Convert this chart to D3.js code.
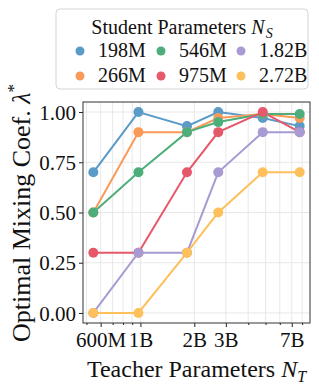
<!DOCTYPE html>
<html>
<head>
<meta charset="utf-8">
<script src="https://cdn.jsdelivr.net/npm/d3@7"></script>
<style>
  body { margin: 0; background: #fff; }
  text { font-family: "Liberation Serif", "DejaVu Serif", serif; fill: #111; }
</style>
</head>
<body>
<div id="chart"></div>
<script>
var svgWidth = 319;
var svgHeight = 391;

// teacher sizes (billions of params)
var teachers = [0.546, 0.975, 1.82, 2.72, 4.82, 7.75];

var students = ["198M", "266M", "546M", "975M", "1.82B", "2.72B"];
var colors = ["#5a9bc8", "#fa9a58", "#4dae7c", "#e5596a", "#a89bd3", "#fdc05a"];

var s198 = [0.70, 1.00, 0.93, 1.00, 0.97, 0.93];
var s266 = [0.50, 0.90, 0.90, 0.97, 0.99, 0.97];
var s546 = [0.50, 0.70, 0.90, 0.95, 0.99, 0.99];
var s975 = [0.30, 0.30, 0.70, 0.90, 1.00, 0.90];
var s182 = [0.00, 0.30, 0.30, 0.70, 0.90, 0.90];
var s272 = [0.00, 0.00, 0.30, 0.50, 0.70, 0.70];
var series = [s198, s266, s546, s975, s182, s272];

var xTickVals = [0.6, 1, 2, 3, 7];
var xTickLabels = ["600M", "1B", "2B", "3B", "7B"];
var xMinor = [0.5, 0.7, 0.8, 0.9, 4, 5, 6, 8];
var yTicks = [0, 0.25, 0.5, 0.75, 1.0];

var margin = { top: 102, right: 9, bottom: 68, left: 83 };
var width = svgWidth - margin.left - margin.right;
var height = svgHeight - margin.top - margin.bottom;

var svg = d3.select("#chart").append("svg")
  .attr("width", svgWidth)
  .attr("height", svgHeight);

var chartGroup = svg.append("g")
  .attr("transform", `translate(${margin.left}, ${margin.top})`);

// log x with matplotlib-like 5% margins
var lo = Math.log10(d3.min(teachers)), hi = Math.log10(d3.max(teachers));
var pad = (hi - lo) * 0.05;
var xScale = d3.scaleLog()
  .domain([Math.pow(10, lo - pad), Math.pow(10, hi + pad)])
  .range([0, width]);

var yScale = d3.scaleLinear()
  .domain([-0.05, 1.05])
  .range([height, 0]);

// grid
chartGroup.append("g").selectAll("line")
  .data(xTickVals.concat(xMinor))
  .enter().append("line")
  .attr("x1", d => xScale(d)).attr("x2", d => xScale(d))
  .attr("y1", 0).attr("y2", height)
  .attr("stroke", "#e2e2e2").attr("stroke-width", 0.8);

chartGroup.append("g").selectAll("line")
  .data(yTicks)
  .enter().append("line")
  .attr("x1", 0).attr("x2", width)
  .attr("y1", d => yScale(d)).attr("y2", d => yScale(d))
  .attr("stroke", "#e2e2e2").attr("stroke-width", 0.8);

// axes
var leftAxis = d3.axisLeft(yScale)
  .tickValues(yTicks)
  .tickFormat(d3.format(".2f"))
  .tickSize(4).tickPadding(3);

var yAxis = chartGroup.append("g").call(leftAxis);
yAxis.select(".domain").remove();
yAxis.selectAll("text").style("font-size", "21px").attr("dy", "0.34em");

var bottomAxis = d3.axisBottom(xScale)
  .tickValues(xTickVals)
  .tickFormat((d, i) => xTickLabels[i])
  .tickSize(4).tickPadding(3);

var xAxis = chartGroup.append("g")
  .attr("transform", `translate(0, ${height})`)
  .call(bottomAxis);
xAxis.select(".domain").remove();
xAxis.selectAll("text").style("font-size", "21px").attr("dy", "0.82em");

chartGroup.append("g")
  .attr("transform", `translate(0, ${height})`)
  .call(d3.axisBottom(xScale).tickValues(xMinor).tickSize(2).tickFormat(""))
  .select(".domain").remove();

chartGroup.selectAll(".tick line").attr("stroke", "#222");

// frame
chartGroup.append("rect")
  .attr("width", width).attr("height", height)
  .attr("fill", "none").attr("stroke", "#333").attr("stroke-width", 1);

// lines + markers
var line = d3.line()
  .x((d, i) => xScale(teachers[i]))
  .y(d => yScale(d));

series.forEach(function(vals, k) {
  chartGroup.append("path")
    .datum(vals)
    .attr("d", line)
    .attr("fill", "none")
    .attr("stroke", colors[k])
    .attr("stroke-width", 2);
});

series.forEach(function(vals, k) {
  chartGroup.append("g").selectAll("circle")
    .data(vals)
    .enter().append("circle")
    .attr("cx", (d, i) => xScale(teachers[i]))
    .attr("cy", d => yScale(d))
    .attr("r", 5)
    .attr("fill", colors[k]);
});

// axis labels
var xLabel = svg.append("text")
  .attr("x", margin.left + width / 2)
  .attr("y", 377)
  .attr("text-anchor", "middle")
  .style("font-size", "24px");
xLabel.append("tspan").text("Teacher Parameters ");
xLabel.append("tspan").style("font-style", "italic").text("N");
xLabel.append("tspan").style("font-style", "italic").style("font-size", "16px")
  .attr("dy", 5).text("T");

var yLabel = svg.append("text")
  .attr("transform", `translate(30, 213) rotate(-90)`)
  .attr("text-anchor", "middle")
  .style("font-size", "26px");
yLabel.append("tspan").text("Optimal Mixing Coef. ");
yLabel.append("tspan").style("font-style", "italic").text("λ");
yLabel.append("tspan").style("font-size", "17px").attr("dy", -11).text("*");

// legend
var legend = svg.append("g");
legend.append("rect")
  .attr("x", 56).attr("y", 9)
  .attr("width", 252).attr("height", 80)
  .attr("rx", 4)
  .attr("fill", "#fff").attr("fill-opacity", 0.85)
  .attr("stroke", "#d4d4d4").attr("stroke-width", 1);

var title = legend.append("text")
  .attr("x", 182).attr("y", 34)
  .attr("text-anchor", "middle")
  .style("font-size", "20px");
title.append("tspan").text("Student Parameters ");
title.append("tspan").style("font-style", "italic").text("N");
title.append("tspan").style("font-style", "italic").style("font-size", "14px")
  .attr("dx", 1).attr("dy", 4).text("S");

var colX = [80, 161, 241];
var rowY = [51, 76];

students.forEach(function(name, k) {
  var col = Math.floor(k / 2), row = k % 2;
  legend.append("circle")
    .attr("cx", colX[col]).attr("cy", rowY[row])
    .attr("r", 4.5).attr("fill", colors[k]);
  legend.append("text")
    .attr("x", colX[col] + 18).attr("y", rowY[row] + 6)
    .style("font-size", "20px")
    .text(name);
});
</script>
</body>
</html>
